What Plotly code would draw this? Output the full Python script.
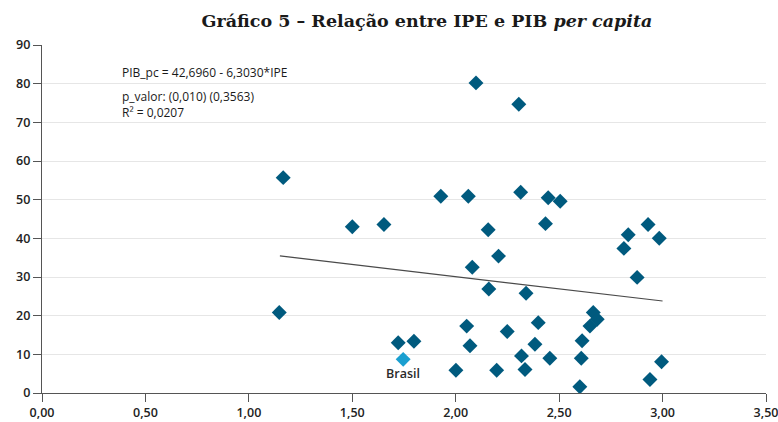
import plotly.graph_objects as go

# Data (IPE, PIB per capita)
ipe = [1.166, 1.147, 1.50, 1.653, 1.928, 2.061, 2.098, 2.305, 2.314, 2.447, 2.505,
       2.157, 2.434, 2.207, 2.080, 2.16, 2.34, 2.813, 2.834, 2.93, 2.984, 2.877,
       1.722, 1.798, 2.053, 2.069, 2.001, 2.249, 2.399, 2.383, 2.318, 2.198, 2.335,
       2.455, 2.665, 2.684, 2.649, 2.611, 2.607, 2.60, 2.995, 2.939]
pib = [55.7, 20.8, 43.0, 43.6, 50.9, 50.9, 80.2, 74.7, 51.9, 50.5, 49.6,
       42.2, 43.8, 35.4, 32.5, 26.9, 25.8, 37.4, 40.9, 43.6, 40.0, 29.9,
       13.0, 13.4, 17.3, 12.2, 5.9, 15.9, 18.2, 12.6, 9.6, 5.9, 6.1,
       9.0, 20.8, 19.1, 17.3, 13.5, 9.0, 1.6, 8.1, 3.5]
brasil_ipe = [1.746]
brasil_pib = [8.7]

intercept = 42.6960
slope = -6.3030
trend_x = [1.15, 3.0]
trend_y = [intercept + slope * v for v in trend_x]

x_ticks = [0, 0.5, 1.0, 1.5, 2.0, 2.5, 3.0, 3.5]
y_ticks = [0, 10, 20, 30, 40, 50, 60, 70, 80, 90]

fig = go.Figure()
fig.add_trace(go.Scatter(x=trend_x, y=trend_y, mode="lines",
                         line=dict(color="#4a4a4a", width=1.2), hoverinfo="skip"))
fig.add_trace(go.Scatter(x=ipe, y=pib, mode="markers",
                         marker=dict(symbol="diamond", size=11.5, color="#005a7e")))
fig.add_trace(go.Scatter(x=brasil_ipe, y=brasil_pib, mode="markers",
                         marker=dict(symbol="diamond", size=11.5, color="#1a9fd0")))

fig.add_annotation(x=brasil_ipe[0], y=brasil_pib[0], text="Brasil", showarrow=False,
                   yshift=-14, font=dict(family="Open Sans", size=12.5, color="#2a2a2a",
                                         weight=600))

fig.add_annotation(x=0.375, y=82.8, xanchor="left", yanchor="middle",
                   text="PIB_pc = 42,6960 - 6,3030*IPE", showarrow=False,
                   font=dict(family="Open Sans", size=12, color="#1a1a1a"))
fig.add_annotation(x=0.375, y=74.6, xanchor="left", yanchor="middle", align="left",
                   text="p_valor: (0,010) (0,3563)<br>R² = 0,0207", showarrow=False,
                   font=dict(family="Open Sans", size=12, color="#1a1a1a"))

fig.update_layout(
    width=778, height=422,
    margin=dict(l=42, r=12, t=45, b=29, autoexpand=False),
    paper_bgcolor="white", plot_bgcolor="white",
    showlegend=False,
    separators=",.",
    title=dict(text="<b>Gráfico 5 – Relação entre IPE e PIB <i>per capita</i></b>",
               x=427/778, xanchor="center", xref="container",
               y=1 - 21/422, yanchor="middle",
               font=dict(family="DejaVu Serif", size=17.5, color="#1a1a1a")),
    font=dict(family="Open Sans", size=12, color="#333333"),
)
fig.update_xaxes(range=[0, 3.5], tickvals=x_ticks, tickformat=".2f", automargin=False,
                 ticklabeloverflow="allow",
                 showgrid=False, zeroline=False, showline=True, linecolor="#555555",
                 linewidth=1.2, ticks="outside", ticklen=8, tickcolor="#555555",
                 tickfont=dict(size=12.5, color="#222222", weight=600))
fig.update_yaxes(range=[0, 90], tickvals=y_ticks, showgrid=True, gridcolor="#e6e6e6",
                 automargin=False, ticklabeloverflow="allow",
                 gridwidth=1, zeroline=False, showline=True, linecolor="#555555",
                 linewidth=1.2, ticks="outside", ticklen=8, tickcolor="#555555",
                 tickfont=dict(size=12.5, color="#222222", weight=600))

fig.write_html("out.html", config={"displayModeBar": False},
               post_script="document.body.style.margin='0';document.body.style.overflow='hidden';")
